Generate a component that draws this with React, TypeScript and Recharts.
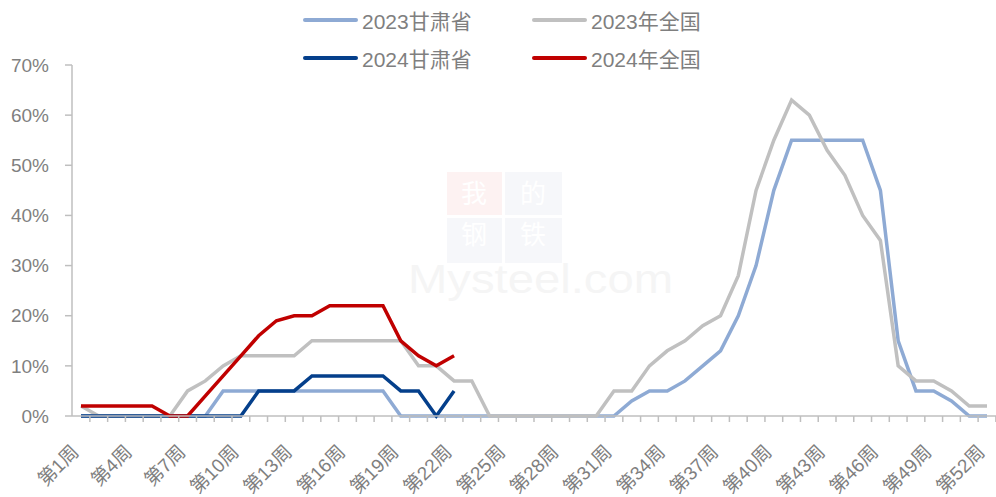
import { Line, LineChart, XAxis, YAxis } from 'recharts';

// week labels 第1周 … 第52周
const weeks = Array.from({ length: 52 }, (_, i) => `第${i + 1}周`);

const gansu2023 = [0, 0, 0, 0, 0, 0, 0, 0, 5, 5, 5, 5, 5, 5, 5, 5, 5, 5, 0, 0, 0, 0, 0, 0, 0, 0, 0, 0, 0, 0, 0, 3, 5, 5, 7, 10, 13, 20, 30, 45, 55, 55, 55, 55, 55, 45, 15, 5, 5, 3, 0, 0];
const national2023 = [2, 0, 0, 0, 0, 0, 5, 7, 10, 12, 12, 12, 12, 15, 15, 15, 15, 15, 15, 10, 10, 7, 7, 0, 0, 0, 0, 0, 0, 0, 5, 5, 10, 13, 15, 18, 20, 28, 45, 55, 63, 60, 53, 48, 40, 35, 10, 7, 7, 5, 2, 2];
const gansu2024 = [0, 0, 0, 0, 0, 0, 0, 0, 0, 0, 5, 5, 5, 8, 8, 8, 8, 8, 5, 5, 0, 5];
const national2024 = [2, 2, 2, 2, 2, 0, 0, 4, 8, 12, 16, 19, 20, 20, 22, 22, 22, 22, 15, 12, 10, 12];

const yTicks = [0, 10, 20, 30, 40, 50, 60, 70];

const series = [
  { key: 'g23', name: '2023甘肃省', color: '#8eaad4' },
  { key: 'n23', name: '2023年全国', color: '#c0c0c0' },
  { key: 'g24', name: '2024甘肃省', color: '#043f8b' },
  { key: 'n24', name: '2024年全国', color: '#c00000' },
];

const data = weeks.map((week, i) => ({
  week,
  g23: gansu2023[i],
  n23: national2023[i],
  g24: gansu2024[i] ?? null,
  n24: national2024[i] ?? null,
}));

const W = 996;
const H = 497;
const LEFT = 72;
const PAD = 9;
const STEP = (W - LEFT - 2 * PAD) / (weeks.length - 1);
const FONT = "'Liberation Sans', 'Noto Sans CJK SC', sans-serif";
const TEXT = '#7f7f7f';
const AXIS = '#bfbfbf';

function WeekTick(props: any) {
  const { x, y, payload } = props;
  const axisY = y - 8;
  const tx = x - 1;
  const ty = axisY + 37;
  return (
    <g>
      <line x1={x + STEP / 2} x2={x + STEP / 2} y1={axisY} y2={axisY + 6} stroke={AXIS} strokeWidth={1.5} />
      {payload.index % 3 === 0 && (
        <text x={tx} y={ty} textAnchor="end" fill={TEXT} fontSize={19} fontFamily={FONT} transform={`rotate(-45 ${tx} ${ty})`}>
          {payload.value}
        </text>
      )}
    </g>
  );
}

const legendPos = [
  { left: 303, top: 20 },
  { left: 532, top: 20 },
  { left: 303, top: 58 },
  { left: 532, top: 58 },
];

function Legend4() {
  return (
    <>
      {series.map((s, i) => (
        <div
          key={s.key}
          style={{ position: 'absolute', left: legendPos[i].left, top: legendPos[i].top - 13, height: 26, display: 'flex', alignItems: 'center', fontFamily: FONT, fontSize: 21, color: TEXT, whiteSpace: 'nowrap' }}
        >
          <span style={{ display: 'inline-block', width: 55, height: 4, borderRadius: 2, background: s.color, marginRight: 4 }} />
          <span>{s.name}</span>
        </div>
      ))}
    </>
  );
}

function Watermark() {
  const cjk = "'Noto Sans CJK SC', sans-serif";
  return (
    <svg width={W} height={H} style={{ position: 'absolute', left: 0, top: 0 }}>
      <rect x={447} y={172} width={55} height={43} fill="#fdf2f2" />
      <rect x={505} y={172} width={57} height={43} fill="#f6f7fa" />
      <rect x={447} y={218} width={55} height={45} fill="#f6f7fa" />
      <rect x={505} y={218} width={57} height={45} fill="#f6f7fa" />
      <text x={474} y={203} textAnchor="middle" fontSize={26} fill="#fff" fontFamily={cjk}>我</text>
      <text x={533} y={203} textAnchor="middle" fontSize={26} fill="#fff" fontFamily={cjk}>的</text>
      <text x={474} y={244} textAnchor="middle" fontSize={26} fill="#fff" fontFamily={cjk}>钢</text>
      <text x={533} y={244} textAnchor="middle" fontSize={26} fill="#fff" fontFamily={cjk}>铁</text>
      <text x={408} y={293} fontSize={40} fill="#f5f5f5" fontFamily="'Liberation Sans', sans-serif" textLength={265} lengthAdjust="spacingAndGlyphs">
        Mysteel.com
      </text>
    </svg>
  );
}

export default function App() {
  return (
    <div style={{ position: 'absolute', left: 0, top: 0, width: W, height: H, background: '#fff' }}>
      <Watermark />
      <div style={{ position: 'absolute', left: 0, top: 0 }}>
        <LineChart width={W} height={H} data={data} margin={{ top: 65, right: 0, bottom: 0, left: 0 }}>
          <XAxis
            dataKey="week"
            interval={0}
            height={81}
            padding={{ left: PAD, right: PAD }}
            tickSize={6}
            tickMargin={2}
            tickLine={false}
            axisLine={{ stroke: AXIS, strokeWidth: 1.5 }}
            tick={<WeekTick />}
          />
          <YAxis
            width={LEFT}
            domain={[0, 70]}
            ticks={yTicks}
            tickFormatter={(v: number) => `${v}%`}
            tickSize={7}
            tickMargin={16}
            axisLine={{ stroke: AXIS, strokeWidth: 1.5 }}
            tickLine={{ stroke: AXIS, strokeWidth: 1.5 }}
            tick={{ fill: TEXT, fontSize: 19, fontFamily: FONT }}
          />
          {series.map((s) => (
            <Line
              key={s.key}
              dataKey={s.key}
              name={s.name}
              stroke={s.color}
              strokeWidth={3.5}
              dot={false}
              type="linear"
              isAnimationActive={false}
            />
          ))}
        </LineChart>
      </div>
      <Legend4 />
    </div>
  );
}
